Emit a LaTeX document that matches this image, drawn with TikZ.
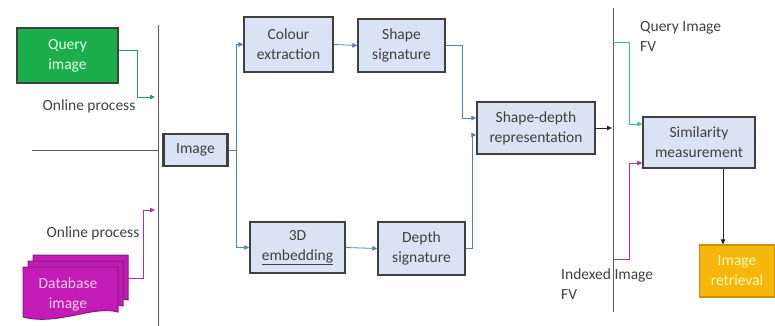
\documentclass[tikz,border=0pt]{standalone}
\usepackage{fontspec}
\setmainfont{Carlito}
\usetikzlibrary{arrows.meta}

\definecolor{boxfill}{HTML}{DAE3F3}
\definecolor{boxline}{HTML}{404040}
\definecolor{txt}{HTML}{404040}
\definecolor{qgreen}{HTML}{1CAE4C}
\definecolor{qline}{HTML}{2E9E5E}
\definecolor{fvgreen}{HTML}{3CC07C}
\definecolor{dbmag}{HTML}{C21BB6}
\definecolor{dbedge}{HTML}{8A1A80}
\definecolor{mline}{HTML}{B0309E}
\definecolor{flow}{HTML}{5A7DC0}
\definecolor{retr}{HTML}{F6B60C}
\definecolor{sep}{HTML}{5A5A5A}

\tikzset{
  procbox/.style={draw=boxline, line width=1.4pt, fill=boxfill, text=txt,
    align=center, inner sep=0pt},
  tip/.style={-{Triangle[length=5pt,width=4.5pt]}},
  flowline/.style={draw=flow, line width=0.8pt, tip},
  qflow/.style={draw=qline, line width=0.8pt, tip},
  fvflow/.style={draw=fvgreen, line width=0.8pt, tip},
  mflow/.style={draw=mline, line width=0.8pt, tip},
  darkflow/.style={draw=black!85, line width=1pt, tip},
  divider/.style={draw=sep, line width=0.9pt},
  dbsheet/.style={fill=dbmag, draw=dbedge, line width=1pt},
  note/.style={text=txt, align=left, inner sep=0pt},
}

\begin{document}
\begin{tikzpicture}[x=1pt, y=-1pt, font=\fontsize{15.5}{20}\selectfont]
\useasboundingbox (0,0) rectangle (775,326);

% dividers between the input, processing and matching stages
\draw[divider] (158,25) -- (158,326);
\draw[divider] (32,150) -- (158,150);
\draw[divider] (613,8) -- (613,312);

% query input
\node[procbox, fill=qgreen, text=green!12!white, minimum width=101pt, minimum height=55pt]
  (query) at (67.5,55.5) {Query\\image};
\node[note] (online1) at (89,106) {Online process};

% database input: a stack of three document sheets
\foreach \dx/\dy in {10/-12, 5/-6, 0/0} {
  \filldraw[dbsheet] (23+\dx,267+\dy) -- ++(95,0) -- ++(0,45)
    .. controls +(-25,-7) and +(35,9) .. ++(-95,5) -- cycle;
}
\node[text=magenta!20!white, align=center, inner sep=0pt] (db) at (68,294) {Database\\image};
\coordinate (dbout) at (128,278);
\node[note] (online2) at (93,233) {Online process};

% entry points on the first divider
\coordinate (qin) at (155,97);
\coordinate (dbin) at (155,210);

% processing chain
\node[procbox, line width=2.2pt, minimum width=64pt, minimum height=32pt] (img) at (195.5,150) {Image};
\node[procbox, minimum width=89pt, minimum height=55pt] (colour) at (288.5,44.5) {Colour\\extraction};
\node[procbox, minimum width=87pt, minimum height=53pt] (shape) at (401.5,45.5) {Shape\\signature};
\node[procbox, minimum width=95pt, minimum height=51pt] (emb) at (297.5,247.5) {3D\\\underline{embedding}};
\node[procbox, minimum width=87pt, minimum height=53pt] (depth) at (421.5,248.5) {Depth\\signature};
\node[procbox, minimum width=118pt, minimum height=52pt] (sd) at (536,128) {Shape-depth\\representation};
\coordinate (sdout) at (612,128);

% matching stage
\node[procbox, minimum width=112pt, minimum height=51pt] (sim) at (699,142.5) {Similarity\\measurement};
\node[procbox, draw=retr!80!black, fill=retr, text=yellow!25!white, line width=1.2pt,
  minimum width=75pt, minimum height=52pt] (ret) at (737,271) {Image\\retrieval};
\node[note, anchor=north west] (qfv) at (640,21) {Query Image\\FV};
\node[note, anchor=north west] (ifv) at (561,269) {Indexed Image\\FV};
\coordinate (qfvout) at (613,42);
\coordinate (ifvout) at (613,259);

% connectors
\draw[qflow] ([yshift=5.5pt]query.east) -| (137,97) -- (qin);
\draw[mflow] (dbout) -| (143,210) -- (dbin);
\draw[flowline] (img.east) -- ++(8,0) |- (colour.west);
\draw[flowline] (img.east) -- ++(8,0) |- (emb.west);
\draw[flowline] (colour.east) -- (shape.west);
\draw[flowline] (emb.east) -- (depth.west);
\draw[flowline] (shape.east) -| (462,118) -- ([yshift=10pt]sd.west);
\draw[flowline] (depth.east) -| (472,135) -- ([yshift=-7pt]sd.west);
\draw[darkflow] (sd.east) -- (sdout);
\draw[fvflow] (qfvout) -| (629,124) -- ([yshift=18.5pt]sim.west);
\draw[mflow] (ifvout) -| (629,163) -- ([yshift=-20.5pt]sim.west);
\draw[darkflow] (sim.south -| 723,0) -- (ret.north -| 723,0);
\end{tikzpicture}
\end{document}
